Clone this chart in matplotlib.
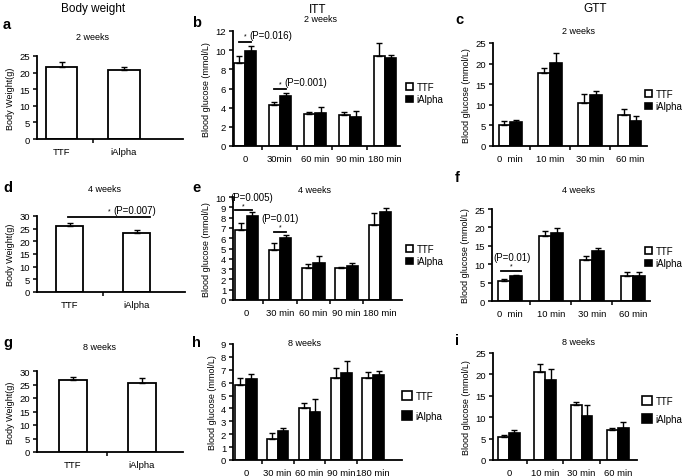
import matplotlib.pyplot as plt
import numpy as np

# Dane - masa ciała (TTF, iAlpha)
bw_groups = ['TTF', 'iAlpha']
bw_2w = [21.8, 20.7]
bw_2w_err = [1.5, 0.9]
bw_4w = [26.1, 23.3]
bw_4w_err = [1.3, 1.1]
bw_8w = [26.8, 25.4]
bw_8w_err = [1.1, 1.9]

# ITT
itt_cats_2w = ['0', '30min', '60 min', '90 min', '180 min']
itt_cats = ['0', '30 min', '60 min', '90 min', '180 min']
itt_2w_ttf = [8.7, 4.3, 3.3, 3.2, 9.4]
itt_2w_ttf_err = [0.65, 0.25, 0.3, 0.3, 1.4]
itt_2w_ia = [9.9, 5.2, 3.45, 3.0, 9.2]
itt_2w_ia_err = [0.5, 0.3, 0.6, 0.7, 0.3]
itt_4w_ttf = [6.75, 4.9, 3.1, 3.1, 7.3]
itt_4w_ttf_err = [0.75, 0.6, 0.4, 0.1, 1.1]
itt_4w_ia = [8.2, 6.0, 3.6, 3.3, 8.5]
itt_4w_ia_err = [0.3, 0.3, 0.65, 0.3, 0.4]
itt_8w_ttf = [5.8, 1.6, 4.0, 6.35, 6.35]
itt_8w_ttf_err = [0.55, 0.5, 0.45, 0.75, 0.5]
itt_8w_ia = [6.3, 2.25, 3.75, 6.75, 6.6]
itt_8w_ia_err = [0.4, 0.25, 0.95, 0.95, 0.3]

# GTT
gtt_cats_a = ['0  min', '10 min', '30 min', '60 min']
gtt_cats_b = ['0', '10 min', '30 min', '60 min']
gtt_2w_ttf = [5.2, 17.7, 10.5, 7.6]
gtt_2w_ttf_err = [0.9, 1.3, 2.2, 1.3]
gtt_2w_ia = [5.8, 20.1, 12.3, 6.1]
gtt_2w_ia_err = [0.6, 2.5, 1.0, 1.3]
gtt_4w_ttf = [5.4, 17.7, 11.2, 6.9]
gtt_4w_ttf_err = [0.5, 1.4, 1.0, 1.1]
gtt_4w_ia = [6.9, 18.5, 13.5, 6.7]
gtt_4w_ia_err = [0.3, 1.4, 0.85, 1.3]
gtt_8w_ttf = [5.3, 20.6, 12.9, 7.05]
gtt_8w_ttf_err = [0.6, 1.8, 0.6, 0.35]
gtt_8w_ia = [6.35, 18.7, 10.3, 7.4]
gtt_8w_ia_err = [0.7, 2.6, 2.55, 1.4]

W, H = 685, 477
FS = 6.5
fig = plt.figure(figsize=(W / 100, H / 100), dpi=100)
plt.rcParams['font.family'] = ['Liberation Sans', 'DejaVu Sans']


def osie(x0, x1, y0, y1):
    # pozycja osi w pikselach -> współrzędne figury
    return fig.add_axes([x0 / W, 1 - y0 / H, (x1 - x0) / W, (y0 - y1) / H])


def styl(ax, ymax, ystep, ylabel):
    ax.set_ylim(0, ymax)
    ax.set_yticks(np.arange(0, ymax + 0.01, ystep))
    for s in ['top', 'right']:
        ax.spines[s].set_visible(False)
    for s in ['left', 'bottom']:
        ax.spines[s].set_linewidth(1.3)
    ax.tick_params(axis='y', direction='out', length=3, width=1.1, labelsize=FS + 0.3, pad=2)
    ax.tick_params(axis='x', which='major', length=0, labelsize=FS + 0.3, pad=6)
    ax.tick_params(axis='x', which='minor', direction='out', length=3, width=1.1)
    ax.set_ylabel(ylabel, fontsize=FS, labelpad=3)


def masa(ax, vals, errs, xlim, width, ymax):
    x = np.arange(len(vals))
    ax.bar(x, vals, width, color='white', edgecolor='black', linewidth=1.3,
           yerr=[np.zeros(len(vals)), errs], capsize=2,
           error_kw=dict(elinewidth=1, capthick=1))
    ax.set_xlim(*xlim)
    ax.set_xticks(x)
    ax.set_xticklabels(bw_groups)
    ax.set_xticks([0.5], minor=True)
    styl(ax, ymax, 5, 'Body Weight(g)')


def glukoza(ax, cats, ttf, ttf_err, ia, ia_err, xlim, width, ymax, ystep):
    x = np.arange(len(cats))
    zero = np.zeros(len(cats))
    ax.bar(x - width / 2, ttf, width, color='white', edgecolor='black', linewidth=1.2,
           yerr=[zero, ttf_err], capsize=2, error_kw=dict(elinewidth=1, capthick=1),
           label='TTF')
    ax.bar(x + width / 2, ia, width, color='black', edgecolor='black', linewidth=1.2,
           yerr=[zero, ia_err], capsize=2, error_kw=dict(elinewidth=1, capthick=1),
           label='iAlpha')
    ax.set_xlim(*xlim)
    ax.set_xticks(x)
    ax.set_xticklabels(cats)
    ax.set_xticks(x[:-1] + 0.5, minor=True)
    styl(ax, ymax, ystep, 'Blood glucose (mmol/L)')


def legenda(ax, px, py, size=0.7, sp=0.3):
    ax.legend(loc='center left', bbox_to_anchor=(px / W, 1 - py / H),
              bbox_transform=fig.transFigure, frameon=False, fontsize=FS + 0.5,
              handlelength=size, handleheight=size, handletextpad=0.4,
              labelspacing=sp, borderpad=0, borderaxespad=0)


def istotnosc(ax, x0, x1, y, tekst, uklad='obok', tx=0.0):
    ax.plot([x0, x1], [y, y], color='black', lw=1.3, clip_on=False)
    xc = (x0 + x1) / 2
    if uklad == 'obok':
        ax.annotate('*', (xc, y), xytext=(0, 4), textcoords='offset points',
                    fontsize=5, ha='center', va='center')
        ax.annotate(tekst, (xc, y), xytext=(3, 5), textcoords='offset points',
                    fontsize=FS + 0.5, ha='left', va='center')
    else:
        ax.annotate('*', (xc, y), xytext=(0, 3.5), textcoords='offset points',
                    fontsize=5, ha='center', va='center')
        ax.annotate(tekst, (xc + tx, y), xytext=(0, 10), textcoords='offset points',
                    fontsize=FS + 0.5, ha='center', va='center')


# a
ax = osie(37, 183, 140, 57)
masa(ax, bw_2w, bw_2w_err, (-0.4, 1.95), 0.5, 25)
fig.text(92 / W, 1 - 37 / H, '2 weeks', fontsize=FS, ha='center', va='center')

# b
ax = osie(233, 400, 147, 32)
glukoza(ax, itt_cats_2w, itt_2w_ttf, itt_2w_ttf_err, itt_2w_ia, itt_2w_ia_err,
        (-0.34, 4.43), 0.32, 12, 2)
istotnosc(ax, -0.18, 0.18, 10.9, '(P=0.016)')
istotnosc(ax, 0.82, 1.18, 5.95, '(P=0.001)')
legenda(ax, 406, 94)
fig.text(320 / W, 1 - 19 / H, '2 weeks', fontsize=FS, ha='center', va='center')

# c
ax = osie(493, 647, 147, 44)
glukoza(ax, gtt_cats_a, gtt_2w_ttf, gtt_2w_ttf_err, gtt_2w_ia, gtt_2w_ia_err,
        (-0.43, 3.43), 0.29, 25, 5)
legenda(ax, 645, 101)
fig.text(578 / W, 1 - 31 / H, '2 weeks', fontsize=FS, ha='center', va='center')

# d
ax = osie(37, 185, 293, 217)
masa(ax, bw_4w, bw_4w_err, (-0.49, 1.72), 0.4, 30)
istotnosc(ax, -0.02, 1.2, 29.7, '(P=0.007)', uklad='obok')

fig.text(105 / W, 1 - 190 / H, '4 weeks', fontsize=FS, ha='center', va='center')

# e
ax = osie(233, 402, 301, 198)
glukoza(ax, itt_cats, itt_4w_ttf, itt_4w_ttf_err, itt_4w_ia, itt_4w_ia_err,
        (-0.41, 4.66), 0.34, 10, 1)
istotnosc(ax, -0.35, 0.17, 8.7, '(P=0.005)', uklad='nad', tx=0.25)
istotnosc(ax, 0.82, 1.18, 6.6, '(P=0.01)', uklad='nad')
legenda(ax, 406, 256)
fig.text(315 / W, 1 - 191 / H, '4 weeks', fontsize=FS, ha='center', va='center')

# f
ax = osie(492, 650, 302, 210)
glukoza(ax, gtt_cats_a, gtt_4w_ttf, gtt_4w_ttf_err, gtt_4w_ia, gtt_4w_ia_err,
        (-0.44, 3.42), 0.29, 25, 5)
istotnosc(ax, -0.23, 0.28, 8.1, '(P=0.01)', uklad='nad', tx=0.03)
legenda(ax, 645, 258)
fig.text(578 / W, 1 - 191 / H, '4 weeks', fontsize=FS, ha='center', va='center')

# g
ax = osie(37, 183, 453, 372)
masa(ax, bw_8w, bw_8w_err, (-0.52, 1.6), 0.41, 30)
fig.text(100 / W, 1 - 347 / H, '8 weeks', fontsize=FS, ha='center', va='center')

# h
ax = osie(233, 402, 461, 345)
glukoza(ax, itt_cats, itt_8w_ttf, itt_8w_ttf_err, itt_8w_ia, itt_8w_ia_err,
        (-0.4, 4.9), 0.34, 9, 1)
legenda(ax, 402, 407, size=1.0, sp=1.0)
fig.text(305 / W, 1 - 344 / H, '8 weeks', fontsize=FS, ha='center', va='center')

# i
ax = osie(493, 637, 461, 354)
glukoza(ax, gtt_cats_b, gtt_8w_ttf, gtt_8w_ttf_err, gtt_8w_ia, gtt_8w_ia_err,
        (-0.44, 3.53), 0.3, 25, 5)
legenda(ax, 642, 411, size=1.0, sp=0.8)
fig.text(578 / W, 1 - 343 / H, '8 weeks', fontsize=FS, ha='center', va='center')

# Nagłówki kolumn
fig.text(93 / W, 1 - 9 / H, 'Body weight', fontsize=8.5, ha='center', va='center')
fig.text(318 / W, 1 - 10 / H, 'ITT', fontsize=8.5, ha='center', va='center')
fig.text(595 / W, 1 - 9 / H, 'GTT', fontsize=8.5, ha='center', va='center')

# Litery paneli
for lit, px, py in [('a', 3, 25), ('b', 192, 23), ('c', 455, 20),
                    ('d', 3, 188), ('e', 192, 188), ('f', 455, 178),
                    ('g', 3, 343), ('h', 192, 343), ('i', 455, 341)]:
    fig.text(px / W, 1 - py / H, lit, fontsize=10.5, fontweight='bold', ha='left', va='center')

plt.savefig('out.png', dpi=100)
